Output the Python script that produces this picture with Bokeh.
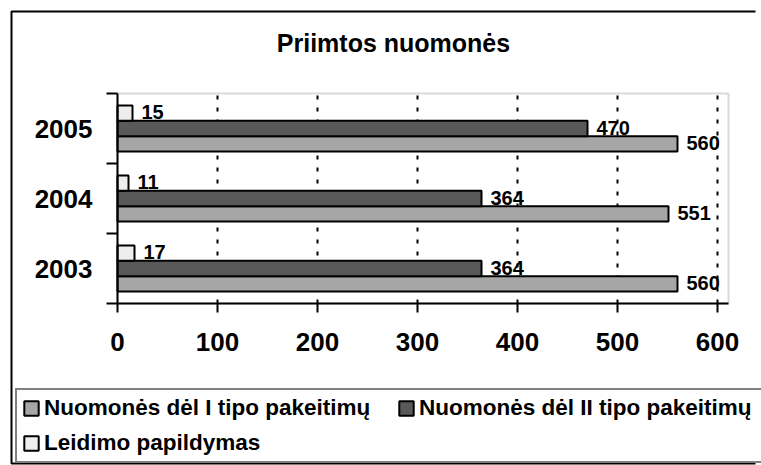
from bokeh.plotting import figure
from bokeh.models import (Range1d, FixedTicker, Legend, LegendItem, Label,
                          BoxAnnotation, ColumnDataSource)
from bokeh.transform import dodge
from bokeh.core.properties import value
from bokeh.embed import file_html
from bokeh.resources import INLINE

# ---- data ----
years = ["2003", "2004", "2005"]
type1 = [560, 551, 560]          # Nuomonės dėl I tipo pakeitimų
type2 = [364, 364, 470]          # Nuomonės dėl II tipo pakeitimų
supplement = [17, 11, 15]        # Leidimo papildymas
series_names = ["Nuomonės dėl I tipo pakeitimų",
                "Nuomonės dėl II tipo pakeitimų",
                "Leidimo papildymas"]
x_ticks = [0, 100, 200, 300, 400, 500, 600]
chart_title = "Priimtos nuomonės"

FONT = "Liberation Sans"
W, H = 761, 465
# layout: pixel position of the data origin and pixel scale
PX0, PY0 = 117, 303
XS, YS = 1.0, 70.0
XMAX = 611


def X(px):
    return (px - PX0) / XS


def Y(py):
    return (PY0 - py) / YS


centers = [i + 0.5 for i in range(len(years))]
src = ColumnDataSource(dict(
    yc=centers,
    t1=type1, t2=type2, s=supplement,
    t1l=[str(v) for v in type1],
    t2l=[str(v) for v in type2],
    sl=[str(v) for v in supplement],
))

p = figure(width=W, height=H, output_backend="svg", toolbar_location=None,
           title=None,
           x_range=Range1d(X(0), X(W)), y_range=Range1d(Y(H), Y(0)),
           min_border=0)
p.background_fill_color = "white"
p.border_fill_color = "white"
p.outline_line_color = None

# outer frame of the chart (open on the right, cropped there)
p.line(x=[X(755), X(11), X(11), X(755)],
       y=[Y(11), Y(11), Y(463), Y(463)],
       line_color="black", line_width=2, level="underlay")

# plot-area frame (grey top/right edges)
p.add_layout(BoxAnnotation(left=0, right=XMAX, bottom=0, top=len(years),
                           fill_color=None, line_color="#808080",
                           line_width=2, level="underlay"))

# dotted vertical grid lines
p.segment(x0=x_ticks[1:], x1=x_ticks[1:], y0=0, y1=len(years),
          line_color="black", line_width=2, line_dash="4 8",
          level="underlay")

BH = 0.22
specs = [("t1", "t1l", -BH, "#A6A6A6"),
         ("t2", "t2l", 0.0, "#595959"),
         ("s", "sl", BH, "#EEEEEE")]
renderers = []
for col, lcol, off, color in specs:
    r = p.hbar(y=dodge("yc", off), left=0, right=col, height=BH, source=src,
               fill_color=color, line_color="black", line_width=2)
    renderers.append(r)
    p.text(x=col, y=dodge("yc", off), text=lcol, source=src,
           x_offset=9, y_offset=-1,
           text_font=value(FONT), text_font_style="bold",
           text_font_size="20px", text_baseline="middle", text_align="left",
           text_color="black")

# x axis
xa = p.xaxis[0]
xa.fixed_location = 0
xa.bounds = (0, XMAX)
xa.ticker = FixedTicker(ticks=x_ticks)
xa.axis_line_color = "black"
xa.axis_line_width = 2
xa.major_tick_line_color = "black"
xa.major_tick_line_width = 2
xa.major_tick_out = 9
xa.major_tick_in = 0
xa.minor_tick_line_color = None
xa.major_label_text_font = FONT
xa.major_label_text_font_style = "bold"
xa.major_label_text_font_size = "26px"
xa.major_label_text_color = "black"
xa.major_label_standoff = 20

# y axis
ya = p.yaxis[0]
ya.fixed_location = 0
ya.bounds = (0, len(years))
ya.ticker = FixedTicker(ticks=centers, minor_ticks=list(range(len(years) + 1)))
ya.major_label_overrides = {c: y for c, y in zip(centers, years)}
ya.axis_line_color = "black"
ya.axis_line_width = 2
ya.major_tick_line_color = None
ya.major_tick_out = 0
ya.major_tick_in = 0
ya.minor_tick_line_color = "black"
ya.minor_tick_line_width = 2
ya.minor_tick_out = 11
ya.minor_tick_in = 0
ya.major_label_text_font = FONT
ya.major_label_text_font_style = "bold"
ya.major_label_text_font_size = "26px"
ya.major_label_text_color = "black"
ya.major_label_standoff = 14

p.xgrid.visible = False
p.ygrid.visible = False

# title
p.add_layout(Label(x=X(393), y=Y(42), text=chart_title, text_font=FONT,
                   text_font_style="bold", text_font_size="25px",
                   text_align="center", text_baseline="middle",
                   text_color="black"))

# legend
legend = Legend(items=[LegendItem(label=n, renderers=[r])
                       for n, r in zip(series_names, renderers)],
                location=(15, 2), orientation="horizontal", ncols=2,
                label_text_font=FONT, label_text_font_style="bold",
                label_text_font_size="22.5px", label_text_color="black",
                glyph_width=18, glyph_height=18, label_standoff=4,
                label_width=344, label_height=25,
                padding=5, spacing=9, margin=0,
                border_line_color="black", border_line_width=2,
                background_fill_color="white", background_fill_alpha=1)
p.add_layout(legend, "center")

open("out.html", "w").write(file_html(p, INLINE))
